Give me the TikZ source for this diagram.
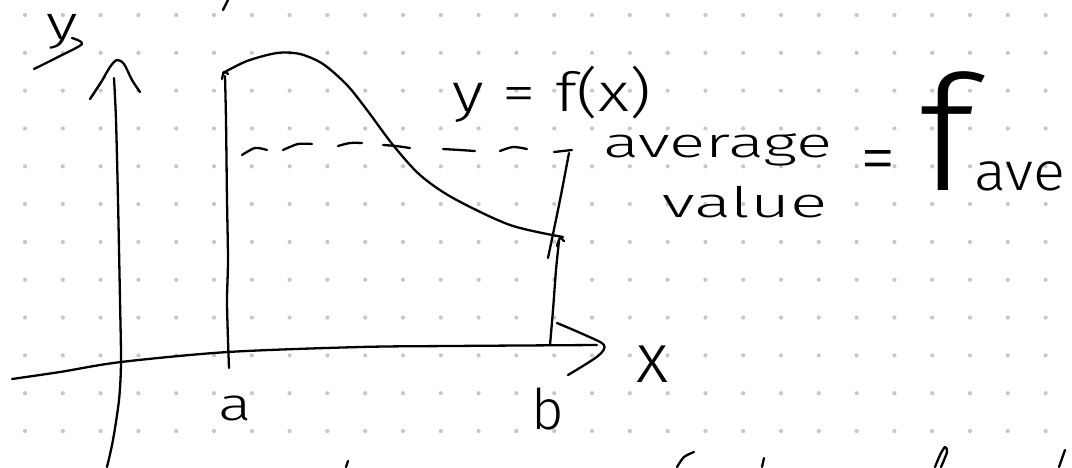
\documentclass[tikz,border=0pt]{standalone}
\usepackage{fontspec}
\setmainfont{Fira Sans}[UprightFont={* Light}]
\begin{document}
\begin{tikzpicture}[x=1pt,y=-1pt,
  pen/.style={line width=2.3pt,line cap=round,line join=round,black},
  hw/.style={inner sep=0pt,outer sep=0pt,transform shape},
  griddot/.style={fill=black!22}]
\useasboundingbox (0,0) rectangle (1072,467);
\fill[white] (0,0) rectangle (1072,467);
% dot grid
\foreach \i in {0,...,27}{
  \foreach \j in {0,...,11}{
    \fill[griddot] ({25+37.8*\i},{15+37.82*\j}) circle (2.1pt);
  }
}
% y axis
\draw[pen] plot[smooth] coordinates {(107,467) (113,440) (119,400) (121,362) (120,300) (118,200) (116,120) (114,78)};
\draw[pen] plot[smooth] coordinates {(105,76) (90,99) (100,84) (110,67) (117,60) (124,64) (132,80) (140,92)};
% y label
\node[hw,xscale=1.4,font=\fontsize{48}{48}\selectfont] (ylab) at (62,32) {y};
\draw[pen] plot[smooth] coordinates {(72,38) (82,44) (58,57) (34,69)};
% x axis
\draw[pen] plot[smooth] coordinates {(12,379) (60,372) (121,362) (228,352) (360,347) (450,346) (597,345)};
\draw[pen] plot[smooth] coordinates {(557,323) (585,335) (604,345) (598,356) (568,375)};
\node[hw,font=\fontsize{70}{70}\selectfont] (xlab) at (653,364) {x};
% vertical at a
\draw[pen] plot[smooth] coordinates {(229,368) (228,340) (227,300) (228,260) (227,200) (226,120) (225,76)};
\draw[pen] plot[smooth] coordinates {(222,79) (224,72) (228,74)};
% curve y=f(x)
\draw[pen] plot[smooth] coordinates {(223,73) (247,61) (277,53) (300,54) (323,64) (347,85) (367,110) (393,145) (420,175) (453,198) (510,225) (563,237)};
% vertical at b
\draw[pen] plot[smooth] coordinates {(550,345) (553,310) (556,270) (559,241)};
\draw[pen] plot[smooth] coordinates {(557,246) (560,238) (564,241)};
% dashed average line
\draw[pen] plot[smooth] coordinates {(242,155) (255,148) (267,150)};
\draw[pen] plot[smooth] coordinates {(283,150) (298,144) (312,144)};
\draw[pen] plot[smooth] coordinates {(338,146) (350,143) (362,143)};
\draw[pen] plot[smooth] coordinates {(383,145) (396,146) (410,148)};
\draw[pen] plot[smooth] coordinates {(443,149) (460,150) (475,151)};
\draw[pen] plot[smooth] coordinates {(500,151) (513,147) (527,149)};
\draw[pen] (554,152) -- (572,150);
\draw[pen] plot[smooth] coordinates {(569,153) (560,200) (548,258)};
% labels a, b
\node[hw,font=\fontsize{46}{46}\selectfont,xscale=1.35] (alab) at (235,408) {a};
\node[hw,font=\fontsize{56}{56}\selectfont] (blab) at (548,409) {b};
% y = f(x)
\node[hw,xscale=1.25,font=\fontsize{54}{54}\selectfont] (fx) at (552,94) {y = f(x)};
% average value = f_ave
\node[hw,xscale=1.6,font=\fontsize{42}{42}\selectfont] (avg) at (718,150) {average};
\node[hw,xscale=1.65,font=\fontsize{42}{42}\selectfont] (val) at (745,202) {value};
\node[hw,font=\fontsize{72}{72}\selectfont] (eq) at (878,167) {=};
\node[hw,anchor=base west,xscale=1.1] (fave) at (918,190)
  {\fontsize{160}{160}\selectfont f\fontsize{54}{54}\selectfont ave};
% cut-off strokes at the edges
\draw[pen] (228,0) -- (223,10);
\draw[pen] (348,461) -- (346,467);
\draw[pen] plot[smooth] coordinates {(694,452) (684,457) (677,467)};
\draw[pen] (764,458) -- (762,467);
\draw[pen] plot[smooth] coordinates {(935,467) (940,455) (945,447) (947,452) (941,467)};
\draw[pen] (1065,450) -- (1059,467);
\end{tikzpicture}
\end{document}
